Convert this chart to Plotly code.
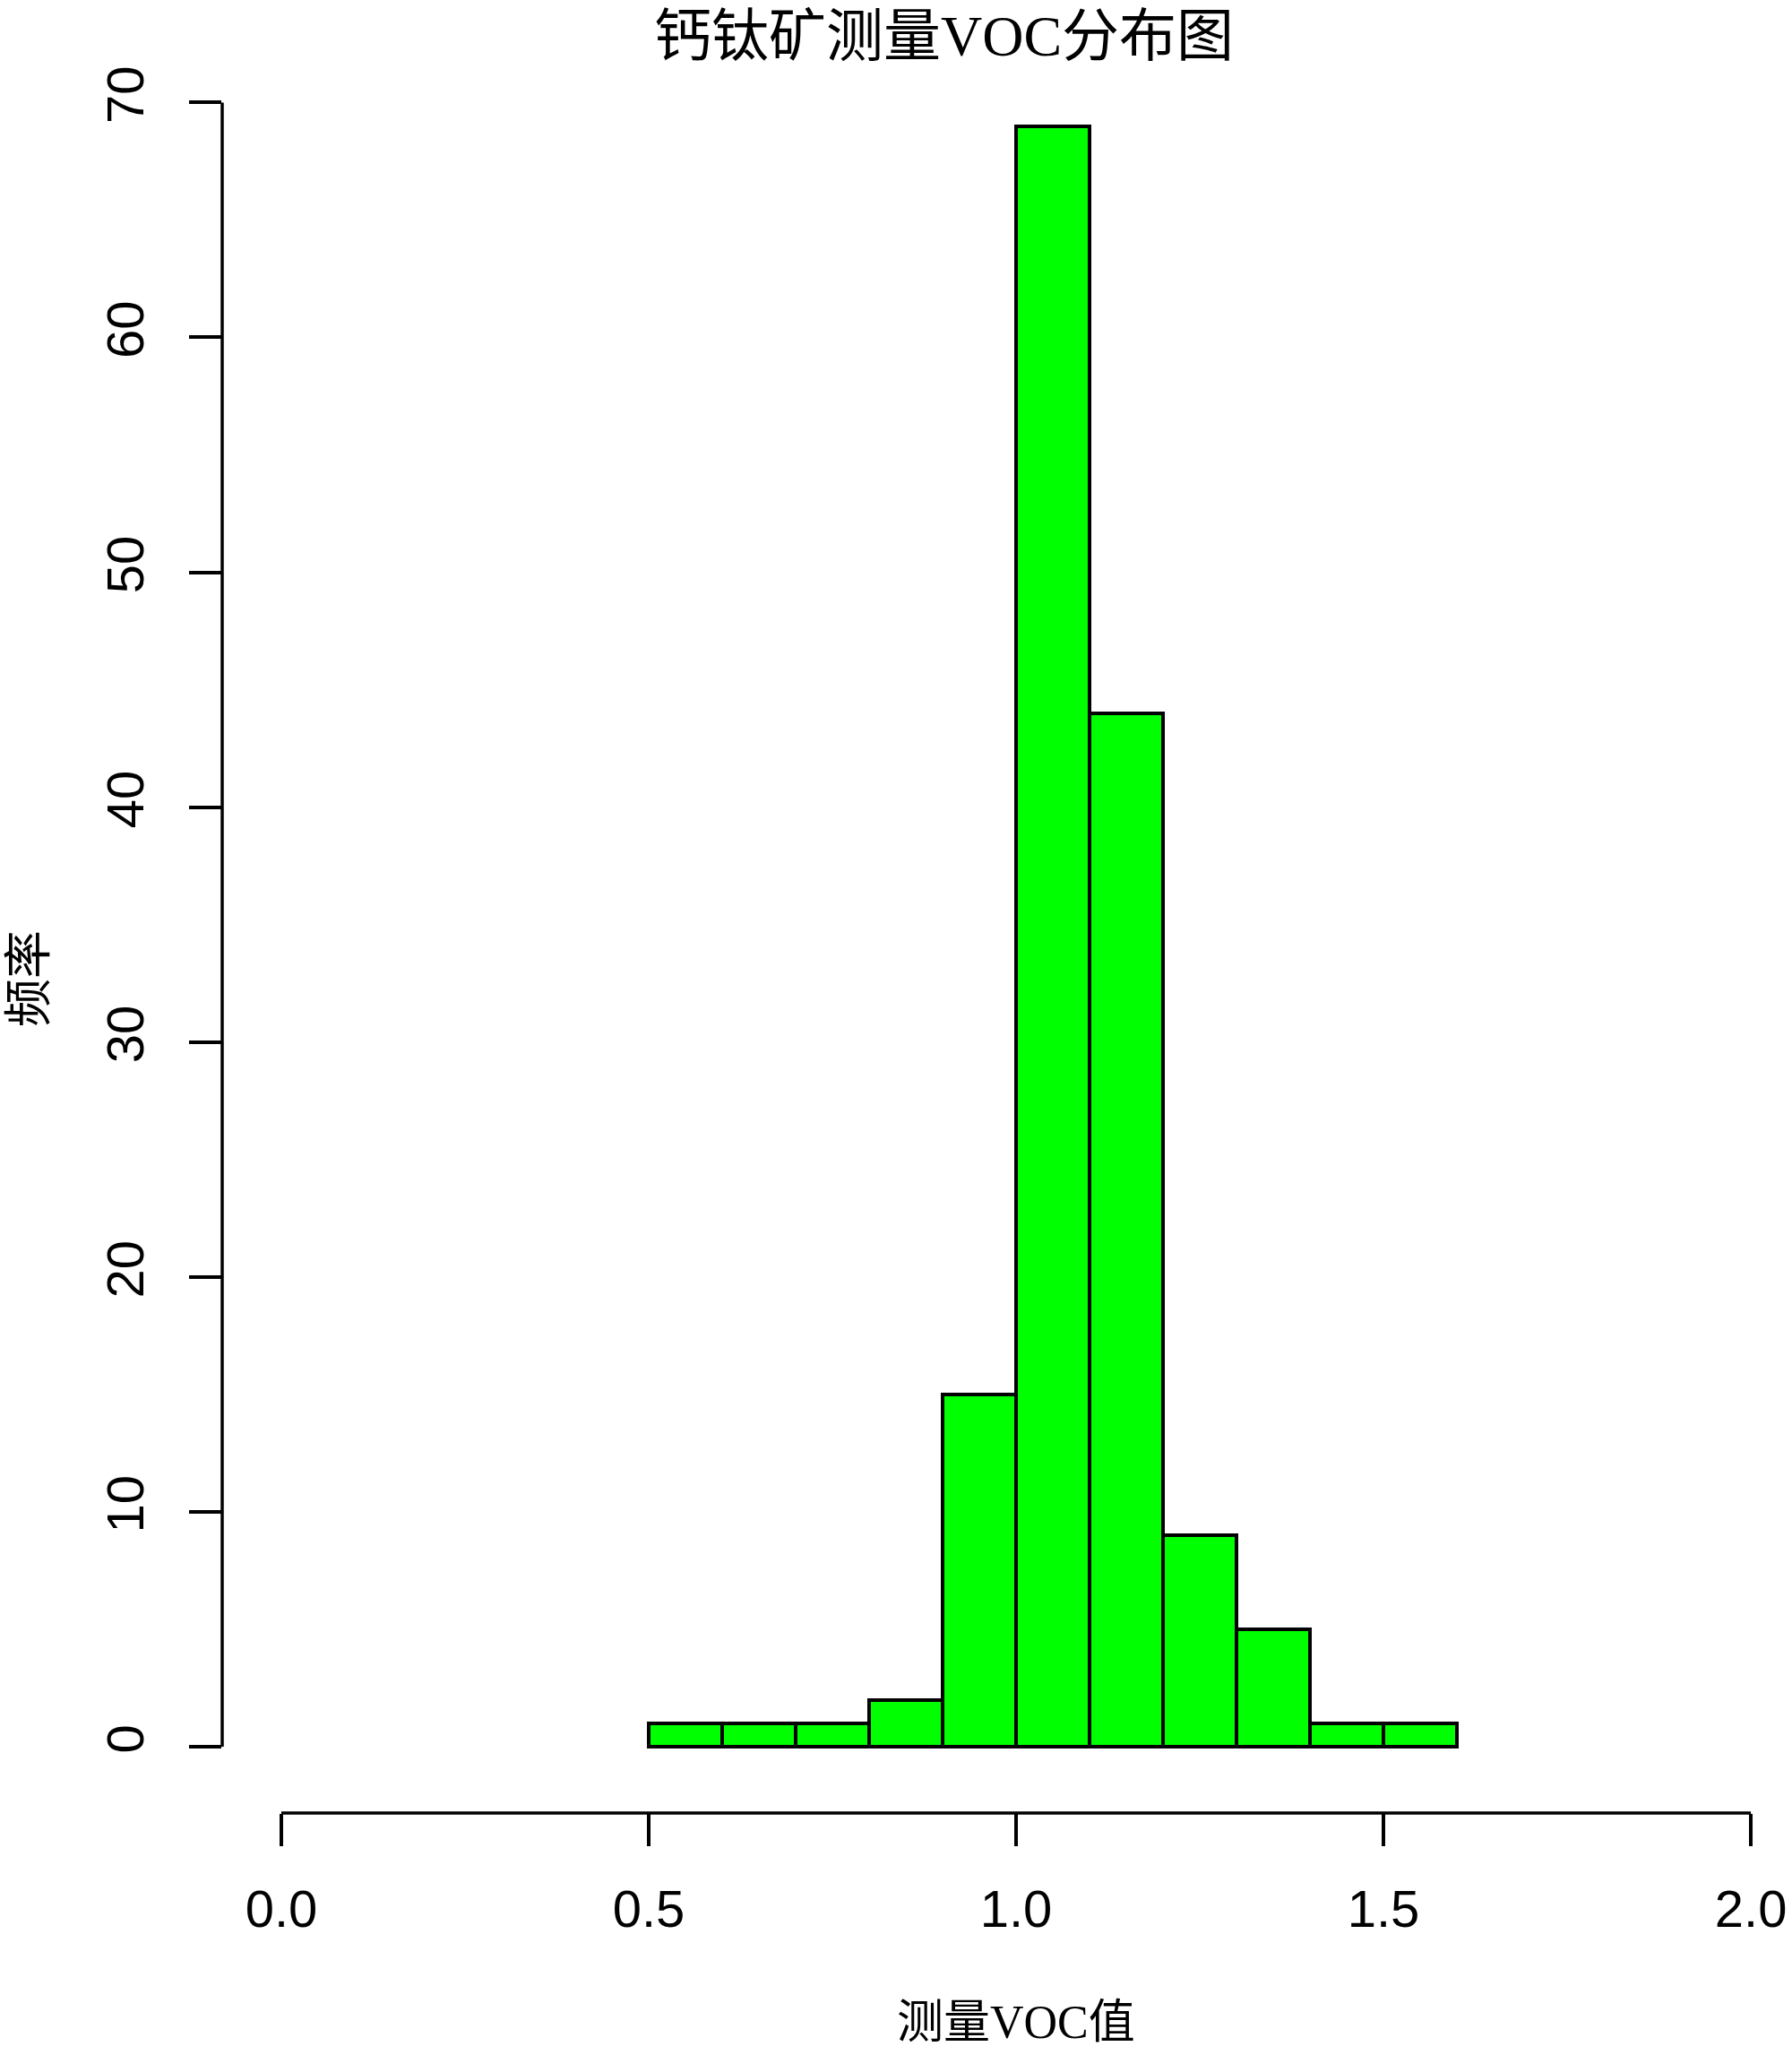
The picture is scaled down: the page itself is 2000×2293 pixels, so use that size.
import plotly.graph_objects as go

# histogram of measured VOC values (bin width 0.1)
bin_left = [0.5, 0.6, 0.7, 0.8, 0.9, 1.0, 1.1, 1.2, 1.3, 1.4, 1.5]
counts = [1, 1, 1, 2, 15, 69, 44, 9, 5, 1, 1]
bin_width = 0.1

x_ticks = [0.0, 0.5, 1.0, 1.5, 2.0]
y_ticks = [0, 10, 20, 30, 40, 50, 60, 70]

title = "钙钛矿测量VOC分布图"
x_title = "测量VOC值"
y_title = "频率"

W, H = 2000, 2293
# plot area in pixels (R-style layout)
L, R, T, B = 248, 2000, 68, 2023
x_range = [-0.0805, 2.056]
y_range = [-2.82, 71.77]

cjk = "Liberation Serif, Noto Sans CJK SC"
num = "Liberation Sans, Arial"


def px_to_paper(xp, yp):
    return (xp - L) / (R - L), (B - yp) / (B - T)


fig = go.Figure(go.Bar(
    x=[b + bin_width / 2 for b in bin_left], y=counts, width=bin_width,
    marker=dict(color="#00FF00", line=dict(color="black", width=4)),
))

axis_common = dict(ticks="outside", ticklen=36, tickwidth=3.5, tickcolor="black",
                   showline=False, showgrid=False, zeroline=False,
                   tickfont=dict(family=num, size=58, color="black"))
fig.update_xaxes(range=x_range, tickvals=x_ticks, tickformat=".1f",
                 ticklabelstandoff=20, **axis_common)
fig.update_yaxes(range=y_range, tickvals=y_ticks, tickangle=-90,
                 ticklabelstandoff=28, **axis_common)

# R draws axis lines only between first and last tick
fig.add_shape(type="line", xref="x", yref="paper", x0=x_ticks[0], x1=x_ticks[-1],
              y0=0, y1=0, line=dict(color="black", width=3.5))
fig.add_shape(type="line", xref="paper", yref="y", x0=0, x1=0,
              y0=y_ticks[0], y1=y_ticks[-1], line=dict(color="black", width=3.5))

tx, ty = px_to_paper(1053, 40)
fig.add_annotation(text=title, x=tx, y=ty, xref="paper", yref="paper",
                   showarrow=False, xanchor="center", yanchor="middle",
                   font=dict(family=cjk, size=64, color="black"))
ax, ay = px_to_paper(1134, 2256)
fig.add_annotation(text=x_title, x=ax, y=ay, xref="paper", yref="paper",
                   showarrow=False, xanchor="center", yanchor="middle",
                   font=dict(family=cjk, size=52, color="black"))
bx, by = px_to_paper(33, 1092)
fig.add_annotation(text=y_title, x=bx, y=by, xref="paper", yref="paper",
                   showarrow=False, xanchor="center", yanchor="middle", textangle=-90,
                   font=dict(family=cjk, size=54, color="black"))

fig.update_layout(
    width=W, height=H, bargap=0, showlegend=False,
    margin=dict(l=L, r=W - R, t=T, b=H - B, pad=0),
    plot_bgcolor="white", paper_bgcolor="white",
)
# drop the default page margin so the figure sits at the window origin
fig.write_html("out.html", config={"displayModeBar": False},
               post_script="document.body.style.margin='0';")
